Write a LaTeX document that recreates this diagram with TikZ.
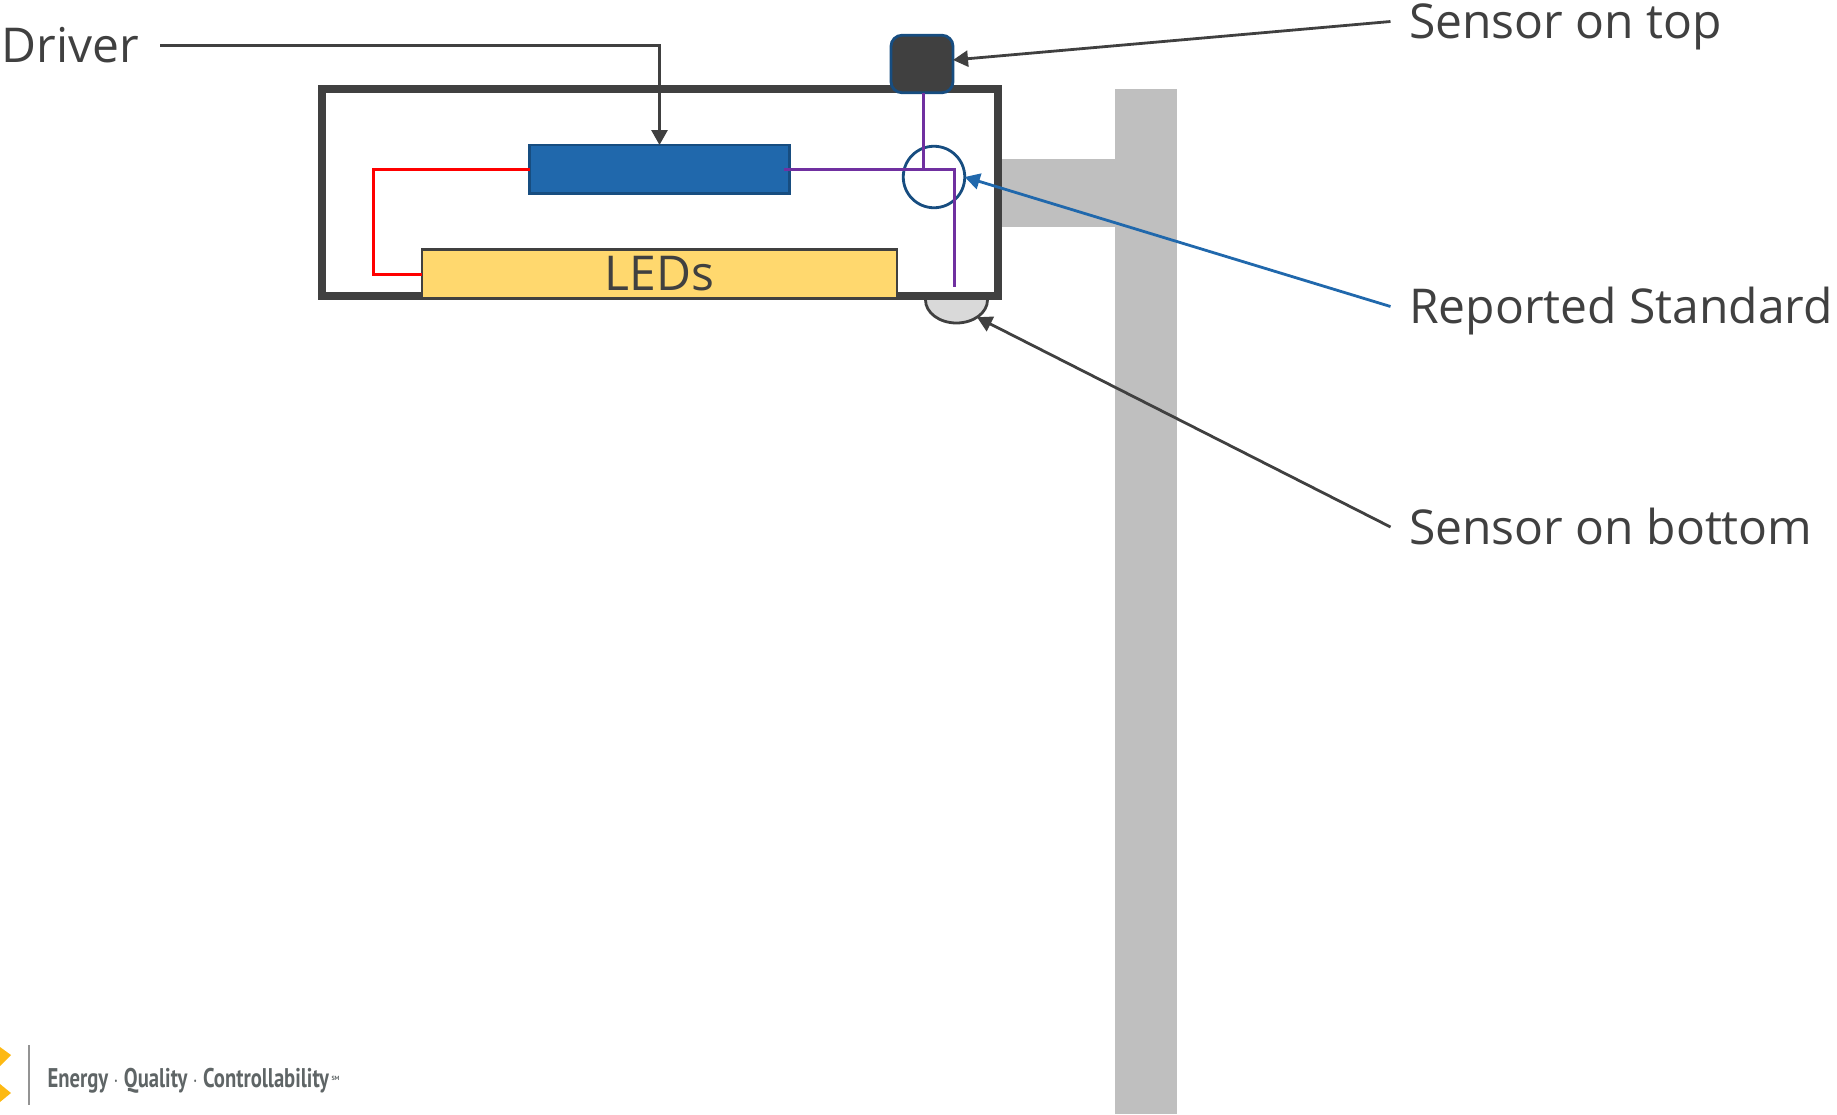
\documentclass[tikz,border=0pt]{standalone}
\usepackage{fontspec}
\setmainfont{Open Sans}
\newfontfamily\logofont{PT Sans}
\usetikzlibrary{arrows.meta,shapes.geometric}
\definecolor{dk}{HTML}{404040}
\definecolor{polegray}{HTML}{BFBFBF}
\definecolor{drv}{HTML}{2068AC}
\definecolor{drvb}{HTML}{174D80}
\definecolor{ledy}{HTML}{FFD86E}
\definecolor{purp}{HTML}{7030A0}
\definecolor{sb}{HTML}{D9D9D9}
\definecolor{logog}{HTML}{5F6566}
\definecolor{logoy}{HTML}{FDB913}
\tikzset{
  box/.style={draw,rectangle,inner sep=0pt,outer sep=0pt},
  lab/.style={inner sep=0pt,outer sep=0pt,anchor=base west,text=dk,font=\fontsize{48}{50}\selectfont},
  callout/.style={draw=dk,line width=2.8pt,-{Triangle[length=15pt,width=16pt]}},
  wire/.style={line width=3pt,line join=miter},
}
\begin{document}
\begin{tikzpicture}[x=1pt,y=-1pt]
\useasboundingbox (0,0) rectangle (1837,1114);
% pole and arm
\node[box,draw=none,fill=polegray,minimum width=113pt,minimum height=68pt] (arm) at (1058.5,193) {};
\node[box,draw=none,fill=polegray,minimum width=62pt,minimum height=1025pt] (pole) at (1146,601.5) {};
% bottom sensor behind housing
\node[draw=dk,fill=sb,ellipse,line width=2.8pt,inner sep=0pt,outer sep=0pt,minimum width=62pt,minimum height=46pt] (sbot) at (956.5,300) {};
% housing
\node[box,draw=dk,fill=white,line width=8pt,minimum width=676.5pt,minimum height=207pt] (housing) at (659.75,192.5) {};
% driver, LEDs
\node[box,draw=drvb,fill=drv,line width=2.8pt,minimum width=260pt,minimum height=48.5pt] (driver) at (659.5,169.25) {};
\node[box,draw=dk,fill=ledy,line width=2.8pt,minimum width=475pt,minimum height=49pt,text=dk,font=\fontsize{48}{50}\selectfont] (leds) at (659.5,274) {LEDs};
% wires
\coordinate (purpStart) at (784,169.5);
\coordinate (purpEnd) at (954.5,287);
\draw[wire,draw=red] (driver.west) -- ++(-156,0) |- (leds.west);
% top sensor
\node[box,draw=drvb,fill=dk,line width=2.8pt,rounded corners=11pt,minimum width=62pt,minimum height=57.5pt] (stop) at (922,64) {};
% reported standard circle
\node[draw=drvb,circle,line width=2.8pt,inner sep=0pt,outer sep=0pt,minimum size=61.5pt] (std) at (934,177) {};
\draw[wire,draw=purp] (purpStart) -| (purpEnd);
\draw[wire,draw=purp] (stop.south) ++(1,0) -- ++(0,76.5);
% labels
\node[lab] (ldriver) at (1.5,62) {Driver};
\node[lab] (ltop) at (1409,38) {Sensor on top};
\node[lab] (lstd) at (1409,323) {Reported Standard};
\node[lab] (lbot) at (1409,544) {Sensor on bottom};
\coordinate (cdriver) at (160,45.5);
\coordinate (ctop) at (1390.5,21.5);
\coordinate (cstd) at (1390.5,306.5);
\coordinate (cbot) at (1390.5,527);
% callouts
\draw[callout] (cdriver) -| (driver.north);
\draw[callout] (ctop) -- ([yshift=4pt]stop.east);
\draw[callout,draw=drv] (cstd) -- (std.east);
\draw[callout] (cbot) -- (sbot.-40);
% logo
\fill[logoy] (0,1047) -- (11,1055) -- (0,1066) -- cycle;
\fill[logoy] (0,1084) -- (11,1093) -- (0,1102) -- cycle;
\draw[line width=1.6pt,draw=gray!85] (28.7,1045) -- (28.7,1105);
\node[inner sep=0pt,outer sep=0pt,anchor=base west,text=logog,xscale=0.765,font=\logofont\bfseries\fontsize{27}{30}\selectfont] (logo) at (47.5,1087) {Energy $\cdot$ Quality $\cdot$ Controllability};
\node[inner sep=0pt,outer sep=0pt,anchor=base west,text=logog,font=\logofont\bfseries\fontsize{6}{7}\selectfont] (sm) at (331.5,1080) {SM};
\end{tikzpicture}
\end{document}
